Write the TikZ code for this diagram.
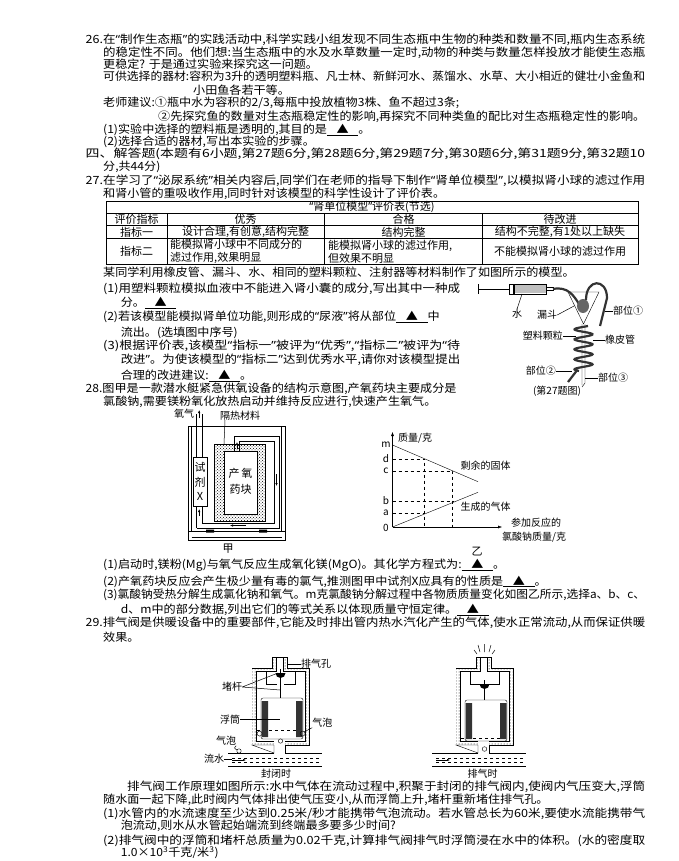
\documentclass[tikz,border=0pt]{standalone}
\usepackage{fontspec}
\setmainfont{Noto Sans CJK SC}
\newfontfamily\latf{Noto Sans}
\usetikzlibrary{patterns,arrows.meta}
\def\bk{\underline{\makebox[2.6em]{▲}}}
\newcommand\qq[1]{{\latf “}#1{\latf ”}}
\newcommand\jl[5]{\node[txt] (#1) at (#2,#3) {\resizebox{\dimexpr #4pt-#2pt\relax}{\height}{#5}};}
\newcommand\pl[4]{\node[txt] (#1) at (#2,#3) {\scalebox{1.07}[1]{#4}};}
\begin{document}
\begin{tikzpicture}[x=1pt,y=-1pt,
 txt/.style={anchor=west,inner sep=0pt,font=\fontsize{11.3}{13}\selectfont},
 tb/.style={inner sep=0pt,font=\fontsize{11}{13}\selectfont},
 lb/.style={inner sep=0pt,font=\fontsize{10}{11}\selectfont},
 tube/.style={line width=2.2pt,black!80},
 ldr/.style={line width=0.5pt}]
\useasboundingbox (0,0) rectangle (678,861);
\fill[white] (0,0) rectangle (678,861);
% ---- 26
\jl{a1}{85.5}{40}{645}{26.在\qq{制作生态瓶}的实践活动中,科学实践小组发现不同生态瓶中生物的种类和数量不同,瓶内生态系统}
\jl{a2}{103}{52.5}{645}{的稳定性不同。他们想:当生态瓶中的水及水草数量一定时,动物的种类与数量怎样投放才能使生态瓶}
\pl{a3}{103}{64}{更稳定? 于是通过实验来探究这一问题。}
\jl{a4}{103}{76}{645}{可供选择的器材:容积为3升的透明塑料瓶、凡士林、新鲜河水、蒸馏水、水草、大小相近的健壮小金鱼和}
\pl{a5}{193}{90.6}{小田鱼各若干等。}
\pl{a6}{103}{102.7}{老师建议:①瓶中水为容积的2/3,每瓶中投放植物3株、鱼不超过3条;}
\jl{a7}{158}{116.6}{645}{②先探究鱼的数量对生态瓶稳定性的影响,再探究不同种类鱼的配比对生态瓶稳定性的影响。}
\pl{a8}{103}{129.8}{(1)实验中选择的塑料瓶是透明的,其目的是\bk。}
\pl{a9}{103}{141.6}{(2)选择合适的器材,写出本实验的步骤。}
\jl{a10}{85.5}{154}{645}{四、解答题(本题有6小题,第27题6分,第28题6分,第29题7分,第30题6分,第31题9分,第32题10}
\pl{a11}{103}{166.5}{分,共44分)}
% ---- 27
\jl{b1}{85.5}{180.8}{645}{27.在学习了\qq{泌尿系统}相关内容后,同学们在老师的指导下制作\qq{肾单位模型},以模拟肾小球的滤过作用}
\pl{b2}{103}{194}{和肾小管的重吸收作用,同时针对该模型的科学性设计了评价表。}
% table
\draw[line width=0.8pt] (106.6,201) rectangle (638,264.6);
\draw (106.6,213.6)--(638,213.6) (106.6,225.4)--(638,225.4) (106.6,238.5)--(638,238.5);
\draw (166.7,213.6)--(166.7,264.6) (324.6,213.6)--(324.6,264.6) (482.5,213.6)--(482.5,264.6);
\node[tb] (tt) at (372,207.3) {\qq{肾单位模型}评价表(节选)};
\node[tb] (h1) at (136.6,219.5) {评价指标};
\node[tb] (h2) at (245.6,219.5) {优秀};
\node[tb] (h3) at (403.5,219.5) {合格};
\node[tb] (h4) at (560,219.5) {待改进};
\node[tb] (r11) at (136.6,232) {指标一};
\node[tb] (r12) at (245.6,232) {设计合理,有创意,结构完整};
\node[tb] (r13) at (403.5,232) {结构完整};
\node[tb] (r14) at (560,232) {结构不完整,有1处以上缺失};
\node[tb] (r21) at (136.6,251.5) {指标二};
\node[tb,anchor=west,align=left] (r22) at (170,251.5) {能模拟肾小球中不同成分的\\滤过作用,效果明显};
\node[tb,anchor=west,align=left] (r23) at (328,251.5) {能模拟肾小球的滤过作用,\\但效果不明显};
\node[tb] (r24) at (560,251.5) {不能模拟肾小球的滤过作用};
\pl{b3}{103}{272.4}{某同学利用橡皮管、漏斗、水、相同的塑料颗粒、注射器等材料制作了如图所示的模型。}
\jl{b4}{103}{288.4}{460}{(1)用塑料颗粒模拟血液中不能进入肾小囊的成分,写出其中一种成}
\pl{b5}{120.6}{302.7}{分。\bk}
\pl{b6}{103}{317}{(2)若该模型能模拟肾单位功能,则形成的\qq{尿液}将从部位\bk 中}
\pl{b7}{120.6}{333}{流出。(选填图中序号)}
\jl{b8}{103}{345.5}{460}{(3)根据评价表,该模型\qq{指标一}被评为\qq{优秀},\qq{指标二}被评为{\latf “}待}
\jl{b9}{120.6}{359.7}{460}{改进{\latf ”}。为使该模型的\qq{指标二}达到优秀水平,请你对该模型提出}
\pl{b10}{120.6}{375.8}{合理的改进建议:\bk。}
% fig 27
\draw (478,284)--(478,294) (478,289)--(509,289);
\fill[black!25] (514,285) rectangle (546,293);
\draw (509,284) rectangle (546,294);
\draw[line width=2pt] (514,284.5)--(514,293.5);
\draw (546,287.5) rectangle (553,290.5);
\draw (568,292)--(599,292)--(583.5,324)--cycle;
\draw (582,324)--(582,385) (585,324)--(585,383)--(582,387);
\draw[tube] (553,289) .. controls (568,286) and (574,296) .. (579,304);
\fill[black!60] (583,306) ellipse (6 and 7);
\draw[tube] (586,300) .. controls (586,278) and (607,278) .. (607,298) -- (600,326);
\draw[tube] plot[domain=0:4.5,samples=90] ({583.5+9*sin(360*\x+150)},{326+10*\x});
\draw[tube] (576.5,371) -- (568,382);
\node[lb] (w1) at (517,314) {水};
\draw[ldr] (w1.north) -- (522,294);
\node[lb] (w2) at (547,315) {漏斗};
\draw[ldr] (w2.east) -- (574,306);
\node[lb,anchor=west] (w3) at (613,311) {部位①};
\draw[ldr] (w3.west) -- (605,311);
\node[lb,anchor=east] (w4) at (563,336) {塑料颗粒};
\draw[ldr] (w4.east) -- (576,336);
\node[lb,anchor=west] (w5) at (605,340) {橡皮管};
\draw[ldr] (w5.west) -- (593,340);
\node[lb,anchor=east] (w6) at (556,371) {部位②};
\draw[ldr] (w6.east) -- (572,371);
\node[lb,anchor=west] (w7) at (598,378) {部位③};
\draw[ldr] (w7.west) -- (585,378);
\node[lb] (w8) at (557,391) {(第27题图)};
% ---- 28
\pl{c1}{85.5}{389}{28.图甲是一款潜水艇紧急供氧设备的结构示意图,产氧药块主要成分是}
\pl{c2}{103}{401.5}{氯酸钠,需要镁粉氧化放热启动并维持反应进行,快速产生氧气。}
% fig jia
\draw (188,426) rectangle (285,540.5);
\draw (191.5,426)--(191.5,531) (281.5,426)--(281.5,531) (188,531)--(285,531);
\draw (191.5,537)--(281.5,537);
\fill[pattern=crosshatch dots] (214,444) rectangle (265,521);
\fill[white] (224,451) rectangle (257,514);
\draw (214,444) rectangle (265,521) (224,451) rectangle (257,514);
\draw (196.5,414)--(196.5,456.7) (201.8,414)--(201.8,456.7);
\draw (193,456.7) rectangle (207,506.6);
\draw (196.5,506.6)--(196.5,528) (201.8,506.6)--(201.8,523);
\draw (196.5,528)--(279,528)--(279,436)--(234.5,436)--(234.5,451);
\draw (201.8,523)--(274,523)--(274,441)--(239.5,441)--(239.5,451);
\draw[-{Latex[length=3pt]}] (237,449)--(237,442);
\draw[-{Latex[length=3pt]}] (276.5,474)--(276.5,486);
\draw[-{Latex[length=3pt]}] (246,525.5)--(230,525.5);
\draw[-{Latex[length=3pt]}] (199.2,516)--(199.2,509);
\draw[-{Latex[length=3pt]}] (199.2,418)--(199.2,410);
\fill (206,529.5) rectangle (214,532.5) (259,529.5) rectangle (267,532.5);
\node[tb] (j1) at (200,467) {试};
\node[tb] (j2) at (200,482) {剂};
\node[tb] (j3) at (200,496) {X};
\node[tb] (j4) at (240.5,473) {产\,氧};
\node[tb] (j5) at (240.5,489) {药块};
\node[lb] (j6) at (184,414) {氧气};
\node[lb] (j7) at (240,415.7) {隔热材料};
\draw[ldr] (225,420)--(224,444);
\node[tb] (j8) at (228,549) {甲};
% graph yi
\coordinate (O) at (392.5,527);
\draw[-{Latex[length=4pt]}] (O)--(392.5,432);
\draw[-{Latex[length=4pt]}] (O)--(502,527);
\draw (392.5,445)--(478,481.7);
\draw (O)--(478,492.3);
\draw[dashed] (392.5,458.8)--(424.6,458.8)--(424.6,527);
\draw[dashed] (392.5,470.8)--(452.6,470.8)--(452.6,527);
\draw[dashed] (392.5,513.2)--(424.6,513.2);
\draw[dashed] (392.5,501.6)--(452.6,501.6);
\node[lb] (g0) at (386,528) {0};
\node[lb] (ga) at (386,513) {a};
\node[lb] (gb) at (386,501) {b};
\node[lb] (gc) at (386,470.5) {c};
\node[lb] (gd) at (386,458.5) {d};
\node[lb] (gm) at (386,445) {m};
\node[lb,anchor=west] (g1) at (398,438) {质量/克};
\node[lb,anchor=west] (g2) at (460.5,466) {剩余的固体};
\node[lb,anchor=west] (g3) at (460.5,506.6) {生成的气体};
\node[lb,anchor=west] (g4) at (511,522.6) {参加反应的};
\node[lb,anchor=west] (g5) at (502,537.6) {氯酸钠质量/克};
\node[tb] (g6) at (477,552) {乙};
\pl{c3}{103}{565.4}{(1)启动时,镁粉(Mg)与氧气反应生成氧化镁(MgO)。其化学方程式为:\bk。}
\pl{c4}{103}{581.4}{(2)产氧药块反应会产生极少量有毒的氯气,推测图甲中试剂X应具有的性质是\bk。}
\jl{c5}{103}{595}{645}{(3)氯酸钠受热分解生成氯化钠和氧气。m克氯酸钠分解过程中各物质质量变化如图乙所示,选择a、b、c、}
\pl{c6}{120.6}{610}{d、m中的部分数据,列出它们的等式关系以体现质量守恒定律。\bk}
% ---- 29
\jl{d1}{85.5}{622.4}{645}{29.排气阀是供暖设备中的重要部件,它能及时排出管内热水汽化产生的气体,使水正常流动,从而保证供暖}
\pl{d2}{103}{637.4}{效果。}
\foreach \dx/\cap/\lev/\fl in {0/669/730/0,204/680/738/2}{
\begin{scope}[xshift=\dx pt]
\fill[pattern=dots,even odd rule] (252,667.7) rectangle (309,745) (256,671.5) rectangle (305,741);
\fill[pattern=dots] (272,657) rectangle (287,668);
\fill[white] (276,655) rectangle (283,672);
\fill[white] (274.5,740) rectangle (284.5,746);
\draw (252,667.7)--(272,667.7)--(272,657)--(287,657)--(287,667.7)--(309,667.7)--(309,745)--(285,745)--(285,753);
\draw (274,753)--(274,745)--(252,745)--cycle;
\draw (256,741)--(274,741) (285,741)--(305,741)--(305,671.5)--(283,671.5)--(283,657) (276,657)--(276,671.5)--(256,671.5)--(256,741);
\draw (228,753)--(274,753) (285,753)--(322,753) (228,766)--(322,766);
\draw[dashed] (232,758)--(320,758) (232,762)--(320,762);
\draw[-{Latex[length=3pt]}] (232,760)--(246,760);
\draw[dashed] (257,\lev)--(304,\lev);
\draw (266,671.5)--(266,684)--(277,684) (295,671.5)--(295,684)--(284,684);
\draw[line width=1pt] (280.5,\cap)--(280.5,698+\fl);
\fill (275.5,\cap+4) arc[start angle=180,end angle=0,radius=5] -- cycle;
\draw[rounded corners=2pt] (261,698+\fl) rectangle (303,739+\fl);
\fill[black!80] (261.5,701+\fl) rectangle (268,737+\fl) (296,701+\fl) rectangle (302.5,737+\fl);
\end{scope}}
\draw (259.6,733.6) circle (2.5) (302.6,733.6) circle (2.5) (280.5,741) circle (2.2) (239,751) circle (2.2);
\node[lb,anchor=west] (e1) at (301,664) {排气孔};
\draw[ldr] (e1.west)--(287,664);
\node[lb] (e2) at (232,687) {堵杆};
\draw[ldr] (e2.east)--(278,673) (e2.east)--(280,690);
\node[lb] (e3) at (230,719.3) {浮筒};
\draw[ldr] (e3.east)--(280,719.3);
\node[lb] (e4) at (322.4,722.9) {气泡};
\draw[ldr] (e4.south west)--(304,732);
\node[lb] (e5) at (226,741) {气泡};
\draw[ldr] (e5.south east) .. controls (234,748) .. (237,750);
\node[lb] (e6) at (214,759) {流水};
\draw[ldr] (e6.east)--(232,759);
\node[lb] (e7) at (276,774) {封闭时};
\draw (484.5,749) circle (2.3);
\draw[ldr] (480,652)--(478,645) (484.5,652)--(484.5,644) (489,652)--(491,645) (477,654)--(474,650) (492,654)--(495,650);
\node[lb] (e8) at (482.5,774) {排气时};
\jl{d3}{127}{787}{645}{排气阀工作原理如图所示:水中气体在流动过程中,积聚于封闭的排气阀内,使阀内气压变大,浮筒}
\pl{d4}{103}{799.5}{随水面一起下降,此时阀内气体排出使气压变小,从而浮筒上升,堵杆重新堵住排气孔。}
\jl{d5}{103}{813.8}{645}{(1)水管内的水流速度至少达到0.25米/秒才能携带气泡流动。若水管总长为60米,要使水流能携带气}
\pl{d6}{120.6}{826}{泡流动,则水从水管起始端流到终端最多要多少时间?}
\jl{d7}{103}{840.5}{645}{(2)排气阀中的浮筒和堵杆总质量为0.02千克,计算排气阀排气时浮筒浸在水中的体积。(水的密度取}
\pl{d8}{120.6}{853}{1.0×10\textsuperscript{3}千克/米\textsuperscript{3})}
\end{tikzpicture}
\end{document}
